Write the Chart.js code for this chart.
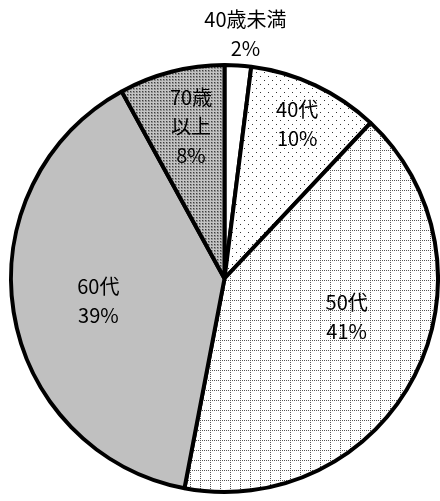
<!DOCTYPE html>
<html>
<head>
<meta charset="utf-8">
<script src="https://cdn.jsdelivr.net/npm/chart.js@4/dist/chart.umd.min.js"></script>
<style>
html,body{margin:0;padding:0;background:#fff;}
#wrap{width:440px;height:501px;position:relative;}
</style>
</head>
<body>
<div id="wrap"><canvas id="c" width="440" height="501"></canvas></div>
<script>
// ---- data ----
const categories = ['40歳未満', '40代', '50代', '60代', '70歳以上'];
const labelLines = [['40歳未満', '2%'], ['40代', '10%'], ['50代', '41%'], ['60代', '39%'], ['70歳', '以上', '8%']];
const shares = [2, 10, 41, 39, 8];

// ---- fill patterns ----
function makePattern(w, h, draw) {
  const cv = document.createElement('canvas');
  cv.width = w; cv.height = h;
  const g = cv.getContext('2d');
  draw(g);
  return g.createPattern(cv, 'repeat');
}
const solidWhite = '#ffffff';
const sparseDots = makePattern(8, 8, g => {
  g.fillStyle = '#fff'; g.fillRect(0, 0, 8, 8);
  g.fillStyle = '#333'; g.fillRect(0, 0, 1, 1); g.fillRect(4, 4, 1, 1);
});
const dottedGrid = makePattern(10, 10, g => {
  g.fillStyle = '#fff'; g.fillRect(0, 0, 10, 10);
  g.fillStyle = '#555';
  for (let i = 0; i < 10; i += 2) { g.fillRect(i, 0, 1, 1); g.fillRect(0, i, 1, 1); }
});
const lightGray = '#c0c0c0';
const denseDots = makePattern(3, 3, g => {
  g.fillStyle = '#909090'; g.fillRect(0, 0, 3, 3);
  g.fillStyle = '#c4c4c4'; g.fillRect(0, 0, 3, 1); g.fillRect(0, 0, 1, 3);
  g.fillStyle = '#404040'; g.fillRect(1, 1, 1, 1);
});
const fills = [solidWhite, sparseDots, dottedGrid, lightGray, denseDots];

// label placement (fraction of radius, angle shift in degrees)
const labelRadius = [1.15, 0.8, 0.6, 0.6, 0.73];
const labelAngleShift = [1.3, 0, -9.5, -1, 2];

const labelPlugin = {
  id: 'sliceLabels',
  afterDatasetsDraw(chart) {
    const ctx = chart.ctx;
    const meta = chart.getDatasetMeta(0);
    ctx.save();
    ctx.font = '20px "Noto Sans CJK JP", sans-serif';
    ctx.fillStyle = '#000';
    ctx.textAlign = 'center';
    ctx.textBaseline = 'middle';
    const lh = 29;
    meta.data.forEach((arc, i) => {
      const p = arc.getProps(['x', 'y', 'startAngle', 'endAngle', 'outerRadius'], true);
      const mid = (p.startAngle + p.endAngle) / 2 + labelAngleShift[i] * Math.PI / 180;
      const r = p.outerRadius * labelRadius[i];
      const cx = p.x + Math.cos(mid) * r;
      const cy = p.y + Math.sin(mid) * r;
      const lines = labelLines[i];
      const y0 = cy - (lines.length - 1) * lh / 2;
      lines.forEach((t, k) => ctx.fillText(t, cx, y0 + k * lh));
    });
    ctx.restore();
  }
};

new Chart(document.getElementById('c'), {
  type: 'pie',
  data: {
    labels: categories,
    datasets: [{
      data: shares,
      backgroundColor: fills,
      borderColor: '#000',
      borderWidth: 4
    }]
  },
  options: {
    responsive: false,
    animation: false,
    layout: { padding: { top: 62, bottom: 6, left: 9, right: 0 } },
    plugins: { legend: { display: false }, tooltip: { enabled: false } }
  },
  plugins: [labelPlugin]
});
</script>
</body>
</html>
